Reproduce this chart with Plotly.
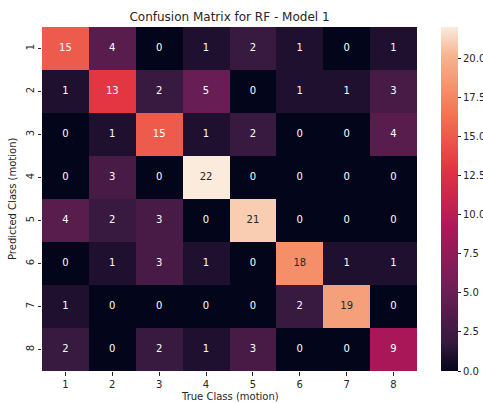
import plotly.graph_objects as go

# Confusion matrix counts: rows = predicted class, columns = true class
classes = ["1", "2", "3", "4", "5", "6", "7", "8"]
counts = [
    [15, 4, 0, 1, 2, 1, 0, 1],
    [1, 13, 2, 5, 0, 1, 1, 3],
    [0, 1, 15, 1, 2, 0, 0, 4],
    [0, 3, 0, 22, 0, 0, 0, 0],
    [4, 2, 3, 0, 21, 0, 0, 0],
    [0, 1, 3, 1, 0, 18, 1, 1],
    [1, 0, 0, 0, 0, 2, 19, 0],
    [2, 0, 2, 1, 3, 0, 0, 9],
]
cbar_ticks = [0.0, 2.5, 5.0, 7.5, 10.0, 12.5, 15.0, 17.5, 20.0]

# seaborn "rocket" colormap approximation
rocket = [
    [0.0, "#03051a"],
    [0.0833, "#35193e"],
    [0.25, "#701f57"],
    [0.4167, "#ad1759"],
    [0.5833, "#e13342"],
    [0.75, "#f37651"],
    [0.9167, "#f6b48f"],
    [1.0, "#faebdd"],
]

zmin = min(min(r) for r in counts)
zmax = max(max(r) for r in counts)
FONT = "DejaVu Sans"
INK = "#262626"

fig = go.Figure()
fig.add_trace(go.Heatmap(
    z=counts, x=classes, y=classes,
    colorscale=rocket, zmin=zmin, zmax=zmax,
    hoverinfo="skip",
    colorbar=dict(
        x=1.064, xanchor="left", y=0.5, yanchor="middle",
        len=1.0, lenmode="fraction", thickness=17,
        xpad=0, ypad=0,
        outlinewidth=0,
        tickmode="array", tickvals=cbar_ticks,
        ticktext=[f"{v:.1f}" for v in cbar_ticks],
        ticks="outside", ticklen=3.5, tickcolor=INK, tickwidth=0.8,
        tickfont=dict(family=FONT, size=10, color=INK),
    ),
))

# cell annotations: light text on dark cells, dark text on light cells
xs, ys, txt, cols = [], [], [], []
for i, row in enumerate(counts):
    for j, v in enumerate(row):
        xs.append(classes[j])
        ys.append(classes[i])
        txt.append(str(v))
        cols.append(INK if v >= 16 else "white")
fig.add_trace(go.Scatter(
    x=xs, y=ys, mode="text", text=txt,
    textfont=dict(family=FONT, size=10, color=cols),
    hoverinfo="skip", showlegend=False,
))

fig.update_layout(
    width=483, height=403,
    margin=dict(l=42, r=66, t=27, b=32, autoexpand=False),
    paper_bgcolor="white", plot_bgcolor="white",
    showlegend=False,
    font=dict(family=FONT, color=INK),
    title=dict(text="Confusion Matrix for RF - Model 1",
               x=(42 + 417) / 2 / 483, xanchor="center",
               y=1 - 17 / 403, yanchor="middle",
               font=dict(family=FONT, size=12, color=INK)),
    xaxis=dict(type="category", showgrid=False, zeroline=False,
               ticks="outside", ticklen=3.5, tickcolor=INK, tickwidth=0.8,
               tickfont=dict(family=FONT, size=10, color=INK),
               showline=False),
    yaxis=dict(type="category", autorange="reversed", showgrid=False,
               zeroline=False, ticks="outside", ticklen=3.5, tickcolor=INK,
               tickwidth=0.8, tickangle=-90,
               tickfont=dict(family=FONT, size=10, color=INK),
               showline=False),
    annotations=[
        dict(text="True Class (motion)", xref="paper", yref="paper",
             x=0.5, y=-(397 - 371) / 344, xanchor="center", yanchor="middle",
             showarrow=False, font=dict(family=FONT, size=10, color=INK)),
        dict(text="Predicted Class (motion)", xref="paper", yref="paper",
             x=-(42 - 12) / 375, y=0.5, xanchor="center", yanchor="middle",
             textangle=-90, showarrow=False,
             font=dict(family=FONT, size=10, color=INK)),
    ],
)

fig.write_html("out.html")
